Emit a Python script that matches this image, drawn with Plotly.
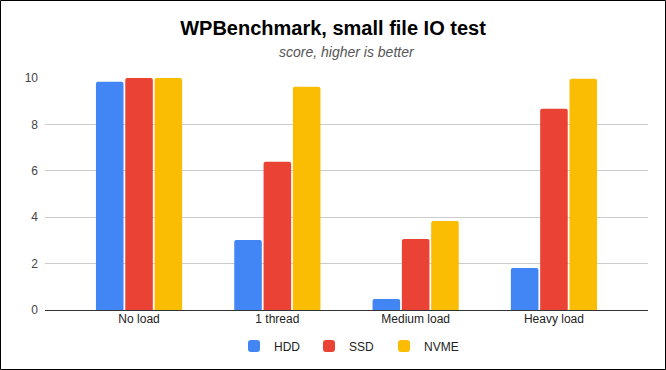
import plotly.graph_objects as go

categories = ["No load", "1 thread", "Medium load", "Heavy load"]
hdd = [9.84, 3.02, 0.47, 1.81]
ssd = [10.0, 6.39, 3.06, 8.67]
nvme = [10.0, 9.62, 3.84, 9.97]
series_names = ["HDD", "SSD", "NVME"]
colors = ["#4285F4", "#EA4335", "#FBBC04"]
y_ticks = [0, 2, 4, 6, 8, 10]

W, H = 666, 370
L, R, T, B = 45, 18, 78, 60
pw, ph = W - L - R, H - T - B

fig = go.Figure()
for name, vals, c in zip(series_names, [hdd, ssd, nvme], colors):
    fig.add_trace(go.Bar(x=categories, y=vals, name=name, marker_color=c,
                         marker_line_width=0))

fig.update_layout(
    width=W, height=H,
    margin=dict(l=L, r=R, t=T, b=B, autoexpand=False),
    paper_bgcolor="white", plot_bgcolor="white",
    font=dict(family="Liberation Sans, Arial", size=12, color="#222222"),
    title=dict(text="<b>WPBenchmark, small file IO test</b>", x=0.5, xanchor="center",
               y=1 - 28 / H, yanchor="middle",
               font=dict(size=20, color="#000000")),
    barmode="group", bargap=0.364, bargroupgap=0.06, barcornerradius=2,
    showlegend=True,
    legend=dict(orientation="h", x=0.5, xanchor="center", y=-(346 - 310) / ph,
                yanchor="middle", font=dict(size=12, color="#222222"),
                itemwidth=30, entrywidth=30, entrywidthmode="pixels",
                traceorder="normal"),
    xaxis=dict(type="category", range=[-0.68, 3.68], showgrid=False,
               showline=False, ticks="", tickfont=dict(size=12, color="#222222")),
    yaxis=dict(range=[0, 10], tickvals=y_ticks, showgrid=True, gridcolor="#cccccc",
               gridwidth=1, zeroline=True, zerolinecolor="#333333", zerolinewidth=1,
               showline=False, ticks="", tickfont=dict(size=12, color="#444444"),
               ticklabelstandoff=6),
)

fig.add_annotation(text="<i>score, higher is better</i>", xref="paper", yref="paper",
                   x=0.5, y=1 + (T - 52) / ph, xanchor="center",
                   yanchor="middle", showarrow=False,
                   font=dict(size=14, color="#555555"))

fig.add_shape(type="rect", xref="paper", yref="paper",
              x0=(0.5 - L) / pw, x1=(W - 0.5 - L) / pw,
              y0=-(H - 0.5 - (H - B)) / ph, y1=1 + (T - 0.5) / ph,
              line=dict(color="black", width=1), fillcolor="rgba(0,0,0,0)")

fig.write_html("out.html", config={"displayModeBar": False},
               post_script="document.body.style.margin='0';document.body.style.overflow='hidden';")
